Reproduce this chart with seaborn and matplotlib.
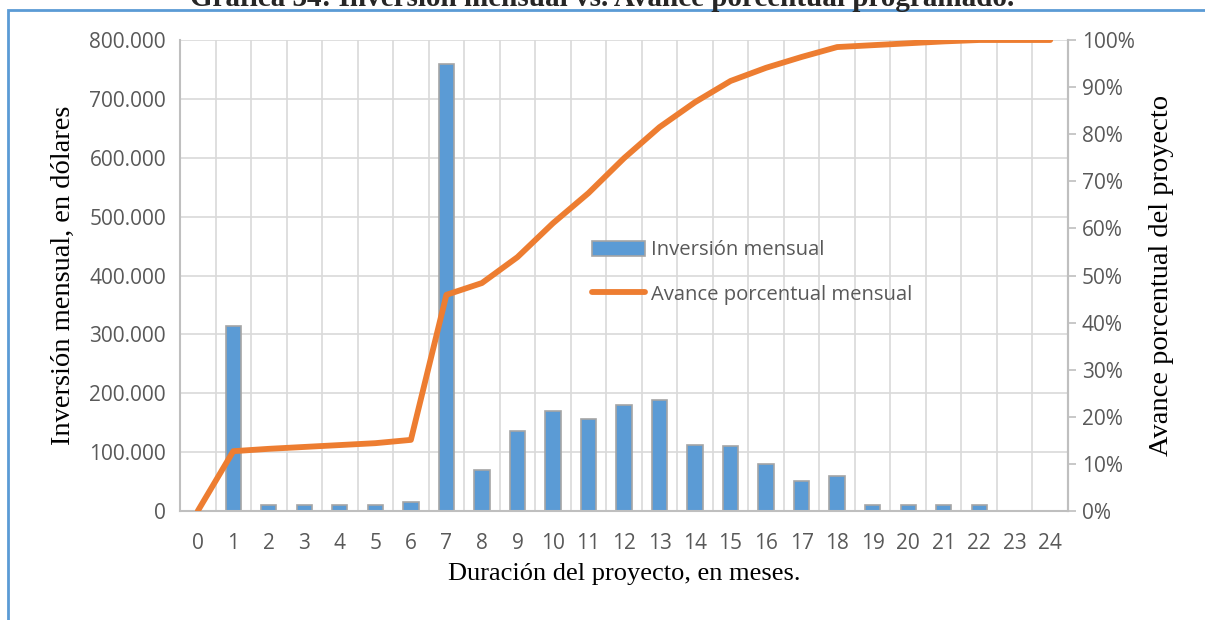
import numpy as np
import pandas as pd
import matplotlib
matplotlib.use('Agg')
import matplotlib.pyplot as plt
import seaborn as sns
from matplotlib.ticker import FuncFormatter, MultipleLocator
from matplotlib.patches import Rectangle
from matplotlib.lines import Line2D
from matplotlib.patches import Patch

# Data
meses = list(range(0, 25))
inversion = [0, 314000, 10000, 10000, 10000, 10000, 15000, 760000, 70000, 136000,
             170000, 156000, 180000, 188000, 112000, 110000, 80000, 51000, 59000,
             10000, 10000, 10000, 10000, 0, 0]
avance = [0.0, 12.7, 13.2, 13.6, 14.0, 14.4, 15.1, 45.9, 48.4, 53.9, 61.1, 67.5,
          74.9, 81.5, 86.8, 91.3, 94.1, 96.4, 98.5, 98.9, 99.3, 99.7, 100.0, 100.0, 100.0]

df = pd.DataFrame({'Mes': meses, 'Inversion': inversion, 'Avance': avance})

sns.set_style('white')
plt.rcParams['font.family'] = ['Open Sans', 'DejaVu Sans']

BLUE = '#5b9bd5'
ORANGE = '#ed7d31'
GRID = '#d9d9d9'
SPINE = '#bfbfbf'
TXT = '#595959'

fig = plt.figure(figsize=(12.05, 6.2), dpi=100)
ax = fig.add_axes([180 / 1205, 1 - 511 / 620, 888 / 1205, 471 / 620])

sns.barplot(data=df, x='Mes', y='Inversion', color=BLUE, width=0.43,
            edgecolor='#a5a5a5', linewidth=1.2, saturation=1, ax=ax, zorder=2)
ax.set_xlim(-0.5, 24.5)
ax.set_ylim(0, 800000)
ax.yaxis.set_major_locator(MultipleLocator(100000))
ax.yaxis.set_major_formatter(FuncFormatter(lambda v, p: f'{int(v):,}'.replace(',', '.')))
ax.set_xticks(meses)
ax.set_xticklabels([str(m) for m in meses])
ax.set_xticks(np.arange(-0.5, 25, 1), minor=True)
ax.grid(True, axis='y', which='major', color=GRID, linewidth=1.2, zorder=0)
ax.grid(True, axis='x', which='minor', color=GRID, linewidth=1.2, zorder=0)
ax.grid(False, axis='x', which='major')
ax.set_axisbelow(True)
ax.tick_params(axis='both', which='both', length=0, labelsize=15, labelcolor=TXT, pad=10)
ax.tick_params(axis='x', pad=16)
ax.spines['top'].set_visible(False)
for s in ['left', 'bottom', 'right']:
    ax.spines[s].set_color(SPINE)
    ax.spines[s].set_linewidth(1.5)

ax.set_xlabel('Duración del proyecto, en meses.', family='Liberation Serif',
              fontsize=19, color='black', labelpad=6)
ax.set_ylabel('Inversión mensual, en dólares', family='Liberation Serif',
              fontsize=20.5, color='black', labelpad=10)

ax2 = ax.twinx()
sns.lineplot(data=df, x='Mes', y='Avance', color=ORANGE, linewidth=4.2, ax=ax2,
             zorder=3, solid_capstyle='round')
ax2.set_ylim(0, 100)
ax2.set_xlim(-0.5, 24.5)
ax2.yaxis.set_major_locator(MultipleLocator(10))
ax2.yaxis.set_major_formatter(FuncFormatter(lambda v, p: f'{int(v)}%'))
ax2.tick_params(axis='y', length=6, width=1.2, color=SPINE, labelsize=15,
                labelcolor=TXT, pad=4)
for s in ['top', 'left', 'bottom']:
    ax2.spines[s].set_visible(False)
ax2.spines['right'].set_color(SPINE)
ax2.spines['right'].set_linewidth(1.5)
ax2.set_ylabel('Avance porcentual del proyecto', family='Liberation Serif',
               fontsize=20.5, color='black', labelpad=10)
ax2.set_xlabel('')

handles = [Patch(facecolor=BLUE, edgecolor='#a5a5a5', linewidth=1.2),
           Line2D([0], [0], color=ORANGE, linewidth=4.2, solid_capstyle='round')]
leg = ax2.legend(handles, ['Inversión mensual', 'Avance porcentual mensual'],
                 loc='upper left', bbox_to_anchor=(0.455, 0.592), frameon=False,
                 fontsize=14.6, handlelength=2.6, handleheight=0.75, handletextpad=0.3,
                 labelspacing=1.2, borderaxespad=0)
for t in leg.get_texts():
    t.set_color(TXT)

# outer frame and cut-off title
fig.patches.append(Rectangle((8 / 1205, -0.1), 1.2, 1 - 10 / 620 + 0.1,
                             transform=fig.transFigure, fill=False,
                             edgecolor=BLUE, linewidth=2))
fig.text(0.5, 1 - 6 / 620, 'Gráfica 34: Inversión mensual vs. Avance porcentual programado.',
         ha='center', va='baseline', family='Liberation Serif', fontsize=21,
         fontweight='bold')

fig.savefig('out.png', dpi=100)
